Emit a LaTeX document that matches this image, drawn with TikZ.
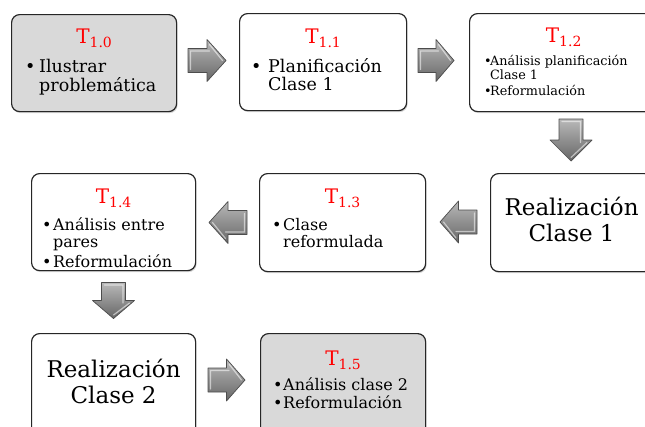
\documentclass[tikz,border=0pt]{standalone}
\usepackage{fontspec}
\setmainfont{DejaVu Serif}
\usetikzlibrary{shadows}
\newcommand\bul[1]{\makebox[#1][l]{\textbullet}}
\newcommand\ttl[1]{T\raisebox{-4pt}{\fontsize{14}{14}\selectfont #1}}
% block arrow: centre x, centre y, rotation, half length
\newcommand\blockarr[4]{%
  \path[blockarrow, shift={(#1,#2)}, rotate=#3]
    (-#4,-12) -- (0,-12) -- (0,-21) -- (#4,0) -- (0,21) -- (0,12) -- (-#4,12) -- cycle;
  \path[arrowlight, shift={(#1,#2)}, rotate=#3]
    (-#4+2.5,9) -- (-#4+2.5,-9.5) -- (2.5,-9.5) (2.5,-16) -- (#4-3.5,0);}
\tikzset{
  box/.style={draw=black!85, line width=1.2pt, rounded corners=8pt, fill=white,
    anchor=north west, inner sep=0pt,
    drop shadow={shadow xshift=1pt, shadow yshift=-1.5pt, opacity=0.35}},
  graybox/.style={box, fill=gray!30},
  title/.style={text=red, font=\fontsize{20}{20}\selectfont, anchor=base, inner sep=0pt},
  body/.style={anchor=base west, inner sep=0pt},
  big/.style={anchor=base, inner sep=0pt, font=\fontsize{23}{26}\selectfont},
  blockarrow/.style={draw=black!70, line width=0.7pt, line join=round,
    top color=gray!55, bottom color=gray!80!black},
  arrowlight/.style={draw=white, opacity=0.55, line width=1.2pt, line cap=round},
}
\begin{document}
\begin{tikzpicture}[x=1pt,y=-1pt]
\useasboundingbox (0,0) rectangle (645,426);
\clip (0,0) rectangle (645,426);
% boxes
\node[graybox, minimum width=165pt, minimum height=97pt] (b0) at (11,14) {};
\node[box, minimum width=167pt, minimum height=97pt] (b1) at (239,13) {};
\node[box, minimum width=190pt, minimum height=98pt] (b2) at (469,13) {};
\node[box, minimum width=164pt, minimum height=97pt] (b4) at (31,173) {};
\node[box, minimum width=166pt, minimum height=98pt] (b3) at (259,173) {};
\node[box, minimum width=162pt, minimum height=98pt] (r1) at (490,173) {};
\node[box, minimum width=164pt, minimum height=110pt] (r2) at (31,333) {};
\node[graybox, minimum width=165pt, minimum height=110pt] (b5) at (260,333) {};
% titles
\node[title] (t0) at ([yshift=-29pt]b0.north) {\ttl{1.0}};
\node[title] (t1) at ([yshift=-30pt]b1.north) {\ttl{1.1}};
\node[title] (t2) at ([xshift=-1pt,yshift=-29pt]b2.north) {\ttl{1.2}};
\node[title] (t4) at ([yshift=-30pt]b4.north) {\ttl{1.4}};
\node[title] (t3) at ([yshift=-30pt]b3.north) {\ttl{1.3}};
\node[title] (t5) at ([yshift=-32pt]b5.north) {\ttl{1.5}};
% bodies
\node[body, font=\fontsize{17.5}{17}\selectfont] (x0) at ([xshift=14pt,yshift=-58pt]b0.north west)
  {\begin{tabular}[t]{@{}l@{}l@{}}\bul{14pt}&Ilustrar\\&problemática\end{tabular}};
\node[body, font=\fontsize{17.5}{17}\selectfont] (x1) at ([xshift=12pt,yshift=-59pt]b1.north west)
  {\begin{tabular}[t]{@{}l@{}l@{}}\bul{17pt}&Planificación\\&Clase 1\end{tabular}};
\node[body, font=\fontsize{12.8}{14}\selectfont] (x2) at ([xshift=15pt,yshift=-52pt]b2.north west)
  {\begin{tabular}[t]{@{}l@{}l@{}}\bul{6pt}&Análisis planificación\\&Clase 1\\[2pt]\bul{6pt}&Reformulación\end{tabular}};
\node[body, font=\fontsize{16}{17.5}\selectfont] (x4) at ([xshift=11pt,yshift=-57pt]b4.north west)
  {\begin{tabular}[t]{@{}l@{}l@{}}\bul{11pt}&Análisis entre\\&pares\\[2pt]\bul{11pt}&Reformulación\end{tabular}};
\node[body, font=\fontsize{16}{16.5}\selectfont] (x3) at ([xshift=13pt,yshift=-57pt]b3.north west)
  {\begin{tabular}[t]{@{}l@{}l@{}}\bul{11pt}&Clase\\&reformulada\end{tabular}};
\node[body, font=\fontsize{16}{18}\selectfont] (x5) at ([xshift=13pt,yshift=-57pt]b5.north west)
  {\begin{tabular}[t]{@{}l@{}l@{}}\bul{10pt}&Análisis clase 2\\\bul{10pt}&Reformulación\end{tabular}};
\node[big] (y1) at ([yshift=-42pt]r1.north) {\begin{tabular}[t]{@{}c@{}}Realización\\Clase 1\end{tabular}};
\node[big] (y2) at ([yshift=-44pt]r2.north) {\begin{tabular}[t]{@{}c@{}}Realización\\Clase 2\end{tabular}};
% block arrows
\blockarr{207}{60.5}{0}{19}
\blockarr{436}{60.5}{0}{18}
\blockarr{571}{140}{-90}{21}
\blockarr{458.5}{222}{180}{18.5}
\blockarr{228}{222.5}{180}{19}
\blockarr{113.5}{300.5}{-90}{18}
\blockarr{226.5}{380}{0}{18.5}
\end{tikzpicture}
\end{document}
